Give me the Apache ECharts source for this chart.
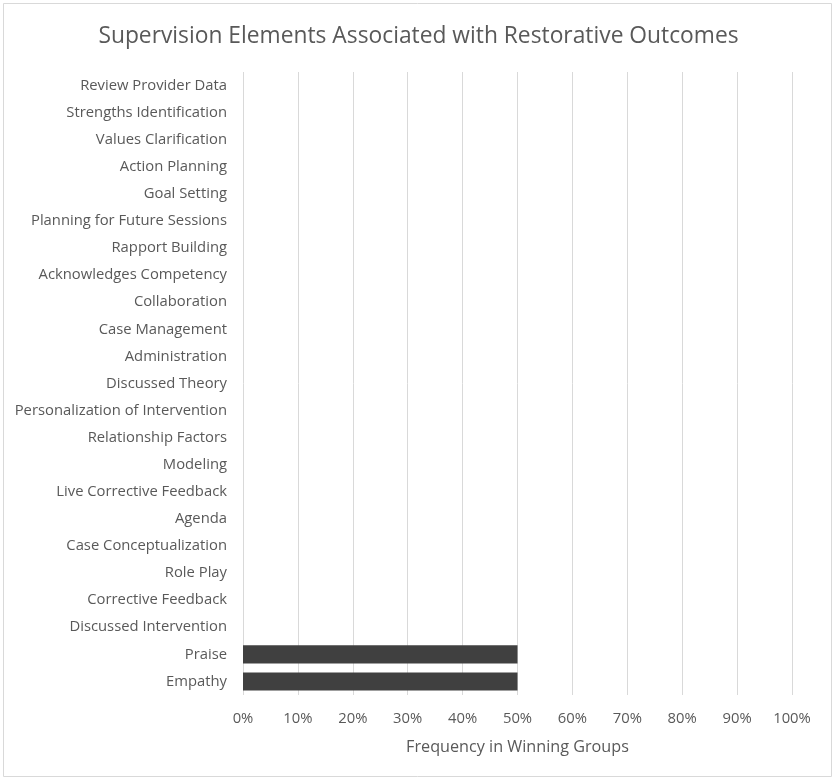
<!DOCTYPE html>
<html lang="en">

<head>
    <meta charset="UTF-8">
    <title>Supervision Elements</title>
    <style>
        body { margin: 0; background: #fff; }
    </style>
</head>

<body>
    <div id="main" style="width: 837px;height:783px;"></div>
    <script src="https://cdn.jsdelivr.net/npm/echarts@6/dist/echarts.min.js"></script>
    <script>
        var categories = ['Empathy', 'Praise', 'Discussed Intervention', 'Corrective Feedback', 'Role Play',
            'Case Conceptualization', 'Agenda', 'Live Corrective Feedback', 'Modeling', 'Relationship Factors',
            'Personalization of Intervention', 'Discussed Theory', 'Administration', 'Case Management',
            'Collaboration', 'Acknowledges Competency', 'Rapport Building', 'Planning for Future Sessions',
            'Goal Setting', 'Action Planning', 'Values Clarification', 'Strengths Identification',
            'Review Provider Data'];
        var frequency = [0.5, 0.5, 0, 0, 0, 0, 0, 0, 0, 0, 0, 0, 0, 0, 0, 0, 0, 0, 0, 0, 0, 0, 0];

        var myChart = echarts.init(document.getElementById('main'));
        var font = 'Open Sans';

        option = {
            backgroundColor: '#fff',
            animation: false,
            title: {
                text: 'Supervision Elements Associated with Restorative Outcomes',
                left: 'center',
                top: 20,
                textStyle: { fontFamily: font, fontSize: 22.8, fontWeight: 'normal', color: '#595959' }
            },
            graphic: [{
                type: 'rect',
                shape: { x: 3.5, y: 3.5, width: 828, height: 773 },
                style: { fill: null, stroke: '#d9d9d9', lineWidth: 1 }
            }],
            grid: { left: 243, right: 45, top: 72, bottom: 88 },
            xAxis: {
                type: 'value',
                min: 0,
                max: 1,
                interval: 0.1,
                name: 'Frequency in Winning Groups',
                nameLocation: 'middle',
                nameGap: 44,
                nameTextStyle: { fontFamily: font, fontSize: 16.2, color: '#595959' },
                axisLine: { show: false },
                axisTick: { show: false },
                axisLabel: {
                    fontFamily: font, fontSize: 14.8, color: '#595959', margin: 16,
                    formatter: function (v) { return Math.round(v * 100) + '%'; }
                },
                splitLine: { lineStyle: { color: '#d9d9d9' } }
            },
            yAxis: {
                type: 'category',
                data: categories,
                axisLine: { show: false },
                axisTick: { show: false },
                axisLabel: { fontFamily: font, fontSize: 14.8, color: '#595959', margin: 16 }
            },
            series: [{
                type: 'bar',
                data: frequency,
                barCategoryGap: '33%',
                itemStyle: { color: '#404040' }
            }]
        };
        myChart.setOption(option);
    </script>
</body>

</html>
